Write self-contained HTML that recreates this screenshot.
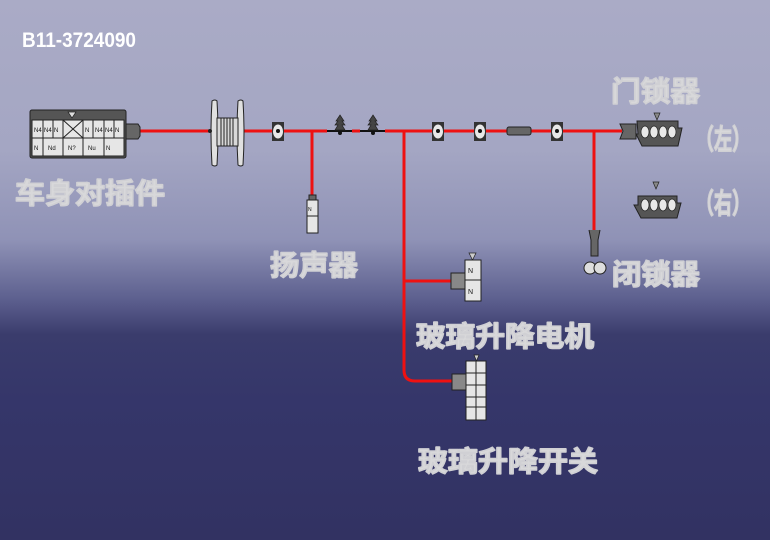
<!DOCTYPE html>
<html><head><meta charset="utf-8"><style>
html,body{margin:0;padding:0;}
body{width:770px;height:540px;overflow:hidden;background:linear-gradient(to bottom,#aaabc6 0px,#a4a6c3 150px,#8f92b6 240px,#5c5f8e 300px,#3a3c6c 335px,#35366a 400px,#323262 540px);}
svg{display:block;}
.lb{font-family:"Liberation Sans","WenQuanYi Zen Hei","Noto Sans CJK SC",sans-serif;font-weight:bold;font-size:28px;fill:#d8d8da;stroke:#d0d0d4;stroke-width:1.6;stroke-linejoin:round;}
</style></head><body>
<svg width="770" height="540" viewBox="0 0 770 540" xmlns="http://www.w3.org/2000/svg">
<text x="22" y="47" font-family="Liberation Sans, sans-serif" font-weight="bold" font-size="21" fill="#ffffff" textLength="114" lengthAdjust="spacingAndGlyphs">B11-3724090</text>

<g stroke="#ee1111" stroke-width="3" fill="none">
<line x1="138" y1="131" x2="327" y2="131"/>
<line x1="352" y1="131" x2="360" y2="131"/>
<line x1="385" y1="131" x2="622" y2="131"/>
<line x1="312" y1="131" x2="312" y2="196"/>
<path d="M404 131 V370 Q404 381 415 381 H458"/>
<line x1="404" y1="281" x2="458" y2="281"/>
<line x1="594" y1="131" x2="594" y2="238"/>
</g>
<g stroke="#111" stroke-width="2">
<line x1="327" y1="131" x2="352" y2="131"/>
<line x1="360" y1="131" x2="385" y2="131"/>
</g>

<rect x="30" y="110" width="96" height="48" rx="2" fill="#555" stroke="#222"/>
<rect x="32" y="120" width="92" height="36" fill="#e6e6e6" stroke="#222"/>
<polygon points="68,112 76,112 72,118" fill="#ddd" stroke="#222" stroke-width="0.7"/>
<g stroke="#222" stroke-width="1" fill="none">
<line x1="32" y1="138" x2="124" y2="138"/>
<line x1="43" y1="120" x2="43" y2="138"/><line x1="53" y1="120" x2="53" y2="138"/><line x1="63" y1="120" x2="63" y2="138"/>
<line x1="83" y1="120" x2="83" y2="138"/><line x1="93" y1="120" x2="93" y2="138"/><line x1="104" y1="120" x2="104" y2="138"/><line x1="114" y1="120" x2="114" y2="138"/>
<line x1="63" y1="120" x2="83" y2="138"/><line x1="83" y1="120" x2="63" y2="138"/>
<line x1="43" y1="138" x2="43" y2="156"/><line x1="63" y1="138" x2="63" y2="156"/><line x1="83" y1="138" x2="83" y2="156"/><line x1="104" y1="138" x2="104" y2="156"/>
</g>
<g font-family="Liberation Sans,sans-serif" font-size="6" fill="#111">
<text x="34" y="132">N4</text><text x="44" y="132">N4</text><text x="54" y="132">N</text><text x="85" y="132">N</text><text x="95" y="132">N4</text><text x="105" y="132">N4</text><text x="115" y="132">N</text>
<text x="34" y="150">N</text><text x="48" y="150">Nd</text><text x="68" y="150">N?</text><text x="88" y="150">Nu</text><text x="106" y="150">N</text>
</g>
<polygon points="126,124 138,124 140,127 140,136 138,139 126,139" fill="#666" stroke="#222"/>

<g stroke="#222" stroke-width="1" fill="#e0e0e0">
<path d="M212 101 Q210 133 212 165 Q215 167 217 165 Q219 133 217 101 Q215 99 212 101Z"/>
<path d="M238 101 Q236 133 238 165 Q241 167 243 165 Q245 133 243 101 Q241 99 238 101Z"/>
<rect x="217" y="118" width="21" height="28" fill="#d8d8d8"/>
<line x1="221" y1="118" x2="221" y2="146"/><line x1="224" y1="118" x2="224" y2="146"/><line x1="227" y1="118" x2="227" y2="146"/><line x1="230" y1="118" x2="230" y2="146"/><line x1="233" y1="118" x2="233" y2="146"/>
</g>
<circle cx="210" cy="131" r="2" fill="#222"/>

<rect x="272" y="122" width="12" height="19" fill="#333"/><ellipse cx="278" cy="131.5" rx="5" ry="7" fill="#e8e8e8"/><circle cx="278" cy="131" r="2" fill="#111"/>
<rect x="432" y="122" width="12" height="19" fill="#333"/><ellipse cx="438" cy="131.5" rx="5" ry="7" fill="#e8e8e8"/><circle cx="438" cy="131" r="2" fill="#111"/>
<rect x="474" y="122" width="12" height="19" fill="#333"/><ellipse cx="480" cy="131.5" rx="5" ry="7" fill="#e8e8e8"/><circle cx="480" cy="131" r="2" fill="#111"/>
<rect x="551" y="122" width="12" height="19" fill="#333"/><ellipse cx="557" cy="131.5" rx="5" ry="7" fill="#e8e8e8"/><circle cx="557" cy="131" r="2" fill="#111"/>
<rect x="507" y="127" width="24" height="8" rx="2" fill="#666" stroke="#222"/>

<g fill="#444" stroke="#222" stroke-width="0.7">
<path d="M340 115 L344 121 L342 121 L345 125 L342 125 L345 130 L335 130 L338 125 L335 125 L338 121 L336 121Z"/>
<path d="M373 115 L377 121 L375 121 L378 125 L375 125 L378 130 L368 130 L371 125 L368 125 L371 121 L369 121Z"/>
</g>
<circle cx="340" cy="133" r="2" fill="#111"/><circle cx="373" cy="133" r="2" fill="#111"/>

<rect x="307" y="200" width="11" height="33" fill="#e6e6e6" stroke="#222"/>
<line x1="307" y1="216" x2="318" y2="216" stroke="#222"/>
<polygon points="309,195 316,195 316,200 309,200" fill="#666" stroke="#222"/>
<text x="308" y="211" font-size="5" font-family="Liberation Sans" fill="#111">N</text>

<polygon points="620,124 636,124 636,139 620,139 623,131" fill="#666" stroke="#222"/>
<polygon points="654,113 660,113 657,120" fill="#888" stroke="#222" stroke-width="0.7"/>
<path d="M637 121 H678 V128 H682 L678 146 H642 L636 134 H638Z" fill="#555" stroke="#222"/>
<g fill="#e8e8e8" stroke="#222" stroke-width="0.7"><ellipse cx="645" cy="132" rx="4" ry="6"/><ellipse cx="654" cy="132" rx="4" ry="6"/><ellipse cx="663" cy="132" rx="4" ry="6"/><ellipse cx="672" cy="132" rx="4" ry="6"/></g>
<polygon points="653,182 659,182 656,189" fill="#888" stroke="#222" stroke-width="0.7"/>
<path d="M638 196 H677 V203 H681 L677 218 H641 L634 205 H638Z" fill="#555" stroke="#222"/>
<g fill="#e8e8e8" stroke="#222" stroke-width="0.7"><ellipse cx="645" cy="205" rx="4" ry="6"/><ellipse cx="654" cy="205" rx="4" ry="6"/><ellipse cx="663" cy="205" rx="4" ry="6"/><ellipse cx="672" cy="205" rx="4" ry="6"/></g>

<path d="M589 230 L591 240 V256 H598 V240 L600 230" fill="#666" stroke="#222"/>
<circle cx="590" cy="268" r="6" fill="#ddd" stroke="#222"/><circle cx="600" cy="268" r="6" fill="#ddd" stroke="#222"/>

<polygon points="469,253 476,253 472.5,260" fill="#ccc" stroke="#222" stroke-width="0.7"/>
<rect x="465" y="260" width="16" height="41" fill="#e6e6e6" stroke="#222"/>
<line x1="465" y1="280" x2="481" y2="280" stroke="#222"/>
<rect x="451" y="273" width="14" height="16" fill="#888" stroke="#222"/>
<text x="468" y="273" font-size="7" font-family="Liberation Sans" fill="#111">N</text><text x="468" y="294" font-size="7" font-family="Liberation Sans" fill="#111">N</text>

<polygon points="474,355 479,355 476.5,361" fill="#ccc" stroke="#222" stroke-width="0.7"/>
<rect x="466" y="361" width="20" height="59" fill="#e6e6e6" stroke="#222"/>
<g stroke="#222"><line x1="476" y1="361" x2="476" y2="420"/><line x1="466" y1="373" x2="486" y2="373"/><line x1="466" y1="385" x2="486" y2="385"/><line x1="466" y1="397" x2="486" y2="397"/><line x1="466" y1="407" x2="486" y2="407"/></g>
<rect x="452" y="374" width="14" height="16" fill="#888" stroke="#222"/>

<text class="lb" x="15" y="203" textLength="150" lengthAdjust="spacingAndGlyphs">车身对插件</text>
<text class="lb" x="270" y="275" textLength="88" lengthAdjust="spacingAndGlyphs">扬声器</text>
<text class="lb" x="611" y="101" textLength="89" lengthAdjust="spacingAndGlyphs">门锁器</text>
<text class="lb" x="696" y="149" textLength="54" lengthAdjust="spacingAndGlyphs">（左）</text>
<text class="lb" x="696" y="213" textLength="54" lengthAdjust="spacingAndGlyphs">（右）</text>
<text class="lb" x="612" y="284" textLength="88" lengthAdjust="spacingAndGlyphs">闭锁器</text>
<text class="lb" x="416" y="346" textLength="178" lengthAdjust="spacingAndGlyphs">玻璃升降电机</text>
<text class="lb" x="418" y="471" textLength="180" lengthAdjust="spacingAndGlyphs">玻璃升降开关</text>
</svg>
</body></html>
